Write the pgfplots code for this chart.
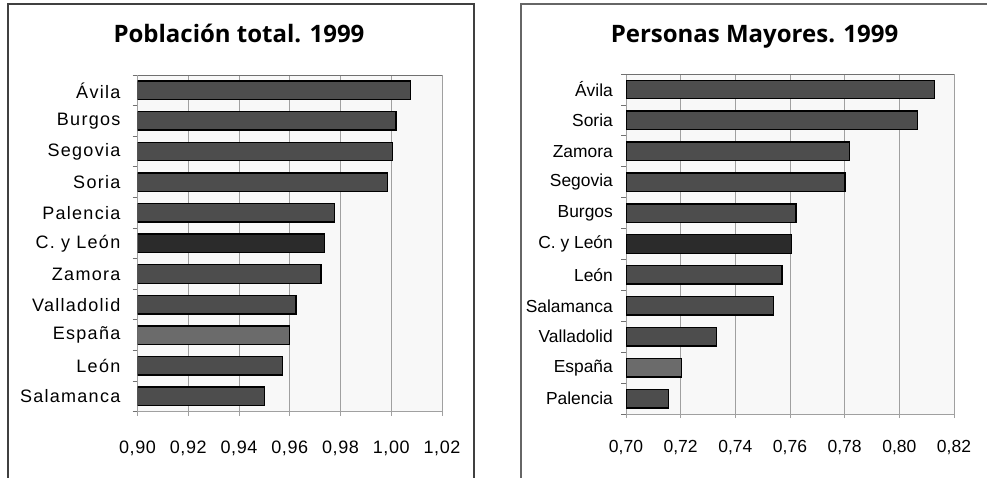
\documentclass[border=0pt]{standalone}
\usepackage{fontspec}
\setmainfont{Liberation Sans}
\newfontfamily\titlefont{Open Sans}
\usepackage{pgfplots}
\pgfplotsset{compat=1.18}
\definecolor{barA}{HTML}{4D4D4D}
\definecolor{barC}{HTML}{2B2B2B}
\definecolor{barE}{HTML}{6B6B6B}
\definecolor{gridc}{HTML}{A0A0A0}
\definecolor{axc}{HTML}{707070}
\definecolor{bgc}{HTML}{F8F8F8}
\pgfplotsset{
  mybars/.style={
    scale only axis,
    anchor=south west,
    xbar,
    bar width=18.5pt,
    y dir=reverse,
    ymin=-0.5, ymax=10.5,
    ytick={0,...,10},
    minor ytick={-0.5,0.5,...,10.5},
    ytick pos=left, xtick pos=bottom,
    major y tick style={draw=none},
    minor y tick style={draw=axc, line width=0.8pt},
    minor tick length=5pt,
    major tick length=4pt,
    tick align=outside,
    x tick style={draw=gridc, line width=0.8pt},
    xmajorgrids,
    major grid style={gridc, line width=0.9pt},
    axis background/.style={fill=bgc},
    axis line style={draw=gridc, line width=1pt},
    xticklabel style={anchor=base},
    yticklabel style={anchor=east, inner sep=0pt},
    /pgf/number format/.cd, fixed, fixed zerofill, precision=2, use comma, assume math mode=true,
  },
  barstyle/.style={draw=black, line width=1.4pt, bar shift=0pt, fill=#1},
}
\begin{document}
\begin{tikzpicture}[x=1pt,y=1pt]
\useasboundingbox (0,0) rectangle (987,477);
\draw[line width=1.2pt, draw=black!75] (8,-5) -- (8,473) -- (474,473) -- (474,-5);
\draw[line width=1.2pt, draw=black!60] (521,-5) -- (521,473) -- (995,473);
\node[anchor=base] at (239,434.3) {\titlefont\fontsize{24}{28}\selectfont\bfseries Población total. 1999};
\node[anchor=base] at (754.5,434) {\titlefont\fontsize{24}{28}\selectfont\bfseries Personas Mayores. 1999};

\begin{axis}[mybars,
  at={(137.5pt,65.3pt)}, width=304.5pt, height=336.7pt,
  xmin=0.90, xmax=1.02, xtick={0.90,0.92,...,1.021},
  yticklabels={Ávila,Burgos,Segovia,Soria,Palencia,{C. y León},Zamora,Valladolid,España,León,Salamanca},
  yticklabel style={font=\fontsize{18}{20}\selectfont\addfontfeatures{LetterSpace=7}, xshift=-13pt},
  xticklabel style={font=\fontsize{18}{20}\selectfont\addfontfeatures{LetterSpace=3}, yshift=-38pt},
]
\addplot[barstyle=barA] coordinates {(1.0077,0) (1.0018,1) (1.0004,2) (0.9985,3) (0.9776,4) (0.9723,6) (0.9625,7) (0.9572,9) (0.9500,10)};
\addplot[barstyle=barC] coordinates {(0.9736,5)};
\addplot[barstyle=barE] coordinates {(0.9598,8)};
\draw[axc, line width=1.2pt] (rel axis cs:0,1) -- (rel axis cs:1,1);
\end{axis}

\begin{axis}[mybars,
  at={(626pt,63pt)}, width=328pt, height=340pt,
  xmin=0.70, xmax=0.82, xtick={0.70,0.72,...,0.821},
  yticklabels={Ávila,Soria,Zamora,Segovia,Burgos,{C. y León},León,Salamanca,Valladolid,España,Palencia},
  yticklabel style={font=\fontsize{17.4}{20}\selectfont, xshift=-9pt},
  xticklabel style={font=\fontsize{17.5}{20}\selectfont, yshift=-34.3pt},
]
\addplot[barstyle=barA] coordinates {(0.8128,0) (0.8067,1) (0.7817,2) (0.7801,3) (0.7622,4) (0.7570,6) (0.7539,7) (0.7332,8) (0.7155,10)};
\addplot[barstyle=barC] coordinates {(0.7606,5)};
\addplot[barstyle=barE] coordinates {(0.7204,9)};
\draw[axc, line width=1.2pt] (rel axis cs:0,1) -- (rel axis cs:1,1);
\end{axis}
\end{tikzpicture}
\end{document}
